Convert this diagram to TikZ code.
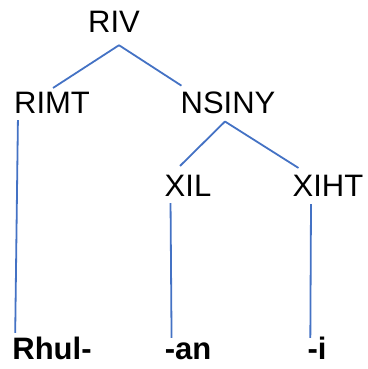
\documentclass[tikz,border=0pt]{standalone}
\usepackage{fontspec}
\setmainfont{Liberation Sans}
\usetikzlibrary{calc}
\definecolor{treeBlue}{RGB}{68,114,196}
\tikzset{
  cat/.style={font=\fontsize{31}{35}\selectfont,inner sep=0pt,anchor=base},
  morph/.style={font=\bfseries\fontsize{31}{35}\selectfont,inner sep=0pt,anchor=base,text height=22pt},
  branch/.style={treeBlue,line width=1.8pt}
}

\begin{document}
\begin{tikzpicture}[x=1pt,y=-1pt]
\useasboundingbox (0,0) rectangle (367,369);
\node[cat] (riv) at (114,33) {RIV};
\node[cat] (rimt) at (52,113) {RIMT};
\node[cat] (nsiny) at (228,113) {NSINY};
\node[cat] (xil) at (188,196) {XIL};
\node[cat] (xiht) at (328,196) {XIHT};
\node[morph] (rhul) at (52,359) {Rhul-};
\node[morph] (an) at (188,359) {-an};
\node[morph] (suffi) at (317,359) {-i};
\draw[branch] ($(riv.south)+(5,12)$) -- ($(rimt.north)+(1,-3.5)$);
\draw[branch] ($(riv.south)+(5,12)$) -- ($(nsiny.north west)+(1,-5.5)$);
\draw[branch] ($(nsiny.south)+(-3,8)$) -- ($(xil.north)+(-8,-8.5)$);
\draw[branch] ($(nsiny.south)+(-3,8)$) -- ($(xiht.north west)+(6,-6.5)$);
\draw[branch] ($(rimt.south west)+(4,7)$) -- ($(rhul.north west)+(3,-4)$);
\draw[branch] ($(xil.south west)+(6,7)$) -- ($(an.north west)+(7,1)$);
\draw[branch] ($(xiht.south)+(-17,8)$) -- ($(suffi.north west)+(3,1)$);
\end{tikzpicture}
\end{document}
